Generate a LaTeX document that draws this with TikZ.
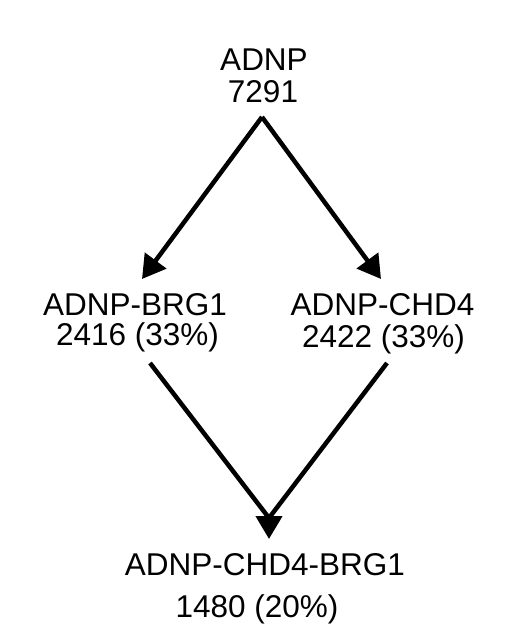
\documentclass[tikz,border=0pt]{standalone}
\usepackage{fontspec}
\setmainfont{Liberation Sans}
\usetikzlibrary{arrows.meta}
\begin{document}
\begin{tikzpicture}[x=1pt,y=-1pt,
  lbl/.style={anchor=base,inner sep=0pt,font=\fontsize{31.5}{32}\selectfont},
  conn/.style={line width=4.5pt,line cap=butt,-{Triangle[length=23pt,width=26pt]}},
  plain/.style={line width=4.5pt}]
\useasboundingbox (0,0) rectangle (528,627);
\node[lbl] (adnp) at (264,70) {ADNP};
\node[lbl] (adnpn) at (263,102) {7291};
\node[lbl] (brg) at (135,315) {ADNP-BRG1};
\node[lbl] (brgn) at (137.5,345) {2416 (33\%)};
\node[lbl] (chd) at (382.5,315) {ADNP-CHD4};
\node[lbl] (chdn) at (383.5,347) {2422 (33\%)};
\node[lbl] (all) at (265,575) {ADNP-CHD4-BRG1};
\node[lbl] (alln) at (257,617) {1480 (20\%)};
\coordinate (apex) at (262,117);
\coordinate (ltip) at (142,279);
\coordinate (rtip) at (381,279);
\coordinate (lstart) at (150,363);
\coordinate (rstart) at (387,363);
\coordinate (meet) at (269,518);
\coordinate (btip) at (269,539);
\draw[conn] (apex) -- (ltip);
\draw[conn] (apex) -- (rtip);
\draw[plain] (lstart) -- (meet) -- (rstart);
\draw[conn] (meet) -- (btip);
\end{tikzpicture}
\end{document}
